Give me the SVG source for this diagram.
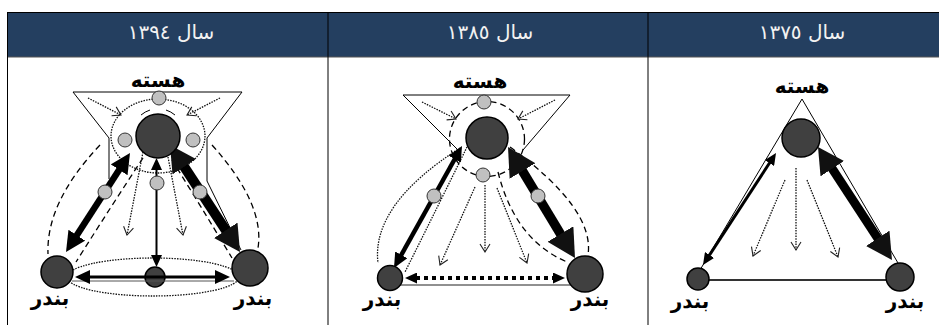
<svg xmlns="http://www.w3.org/2000/svg" width="939" height="325" viewBox="0 0 939 325">
<style>
.thin{fill:none;stroke:#000;stroke-width:1}
.dot{fill:none;stroke:#111;stroke-width:1.3;stroke-dasharray:1.5 1.2}
.dash{fill:none;stroke:#000;stroke-width:1.3;stroke-dasharray:6 4}
.darr{fill:none;stroke:#111;stroke-width:1.3;stroke-dasharray:1.5 1.2;marker-end:url(#vh)}
.big{fill:#404040;stroke:#000;stroke-width:1.5}
.sm{fill:#c0c0c0;stroke:#333;stroke-width:1}
.lbl{font-family:"DejaVu Sans",sans-serif;font-weight:bold;font-size:20px;text-anchor:middle;fill:#000}
.hdr{font-family:"DejaVu Sans",sans-serif;font-size:20px;fill:#f2f2f2;text-anchor:middle}
.arr{fill:none;stroke:#000}
</style>
<defs>
<marker id="vh" markerUnits="userSpaceOnUse" viewBox="-1 -6 11 12" refX="8" refY="0" markerWidth="11" markerHeight="12" orient="auto"><path d="M0,-5 L8,0 L0,5" fill="none" stroke="#222" stroke-width="1.1"/></marker>
<marker id="m12" markerUnits="userSpaceOnUse" viewBox="0 0 12 11" refX="1" refY="5.5" markerWidth="12" markerHeight="11" orient="auto-start-reverse"><path d="M0,0 L12,5.5 L0,11 z" fill="#000"/></marker>
<marker id="m15" markerUnits="userSpaceOnUse" viewBox="0 0 15 14" refX="1" refY="7" markerWidth="15" markerHeight="14" orient="auto-start-reverse"><path d="M0,0 L15,7 L0,14 z" fill="#000"/></marker>
<marker id="m20" markerUnits="userSpaceOnUse" viewBox="0 0 20 20" refX="1" refY="10" markerWidth="20" markerHeight="20" orient="auto-start-reverse"><path d="M0,0 L20,10 L0,20 z" fill="#000"/></marker>
<marker id="m26" markerUnits="userSpaceOnUse" viewBox="0 0 26 28" refX="1" refY="14" markerWidth="26" markerHeight="28" orient="auto-start-reverse"><path d="M0,0 L26,14 L0,28 z" fill="#111"/></marker>
<marker id="m28" markerUnits="userSpaceOnUse" viewBox="0 0 28 30" refX="1" refY="15" markerWidth="28" markerHeight="30" orient="auto-start-reverse"><path d="M0,0 L28,15 L0,30 z" fill="#111"/></marker>
</defs>

<g id="table">
<rect x="0" y="0" width="939" height="325" fill="#fff"/>
<rect x="7" y="12.5" width="932" height="44.5" fill="#243f60"/>
<line x1="7" y1="12.5" x2="939" y2="12.5" stroke="#000" stroke-width="1"/>
<line x1="7" y1="57" x2="939" y2="57" stroke="#555" stroke-width="1.2"/>
<line x1="7.5" y1="12" x2="7.5" y2="325" stroke="#000" stroke-width="1"/>
<line x1="328" y1="12" x2="328" y2="325" stroke="#000" stroke-width="1"/>
<line x1="648" y1="12" x2="648" y2="325" stroke="#000" stroke-width="1"/>
<text class="hdr" x="171" y="39">سال ١٣٩٤</text>
<text class="hdr" x="490" y="39">سال ١٣٨٥</text>
<text class="hdr" x="802" y="39">سال ١٣٧٥</text>
</g>

<g id="p1-center-port"><circle class="big" cx="155" cy="277" r="10"/></g>

<g id="connectors">
<!-- panel 1394 -->
<path class="thin" d="M73,92 H242 M73,92 L109,138 V179 M242,92 L207,138 V181 L241,250"/>
<ellipse class="dot" cx="158" cy="136" rx="47" ry="37"/>
<path class="thin" d="M141,115 A27,27 0 0 1 150,110 M166,110 A27,27 0 0 1 175,115"/>
<path class="dash" d="M100,145 Q46,202 48,254 M212,145 Q265,204 258,248 M143,158 Q112,205 76,262 M172,160 Q200,205 232,258"/>
<ellipse class="dot" cx="153" cy="277" rx="86" ry="19"/>
<line x1="72" y1="281" x2="234" y2="281" stroke="#555" stroke-width="1"/>
<path class="darr" d="M88,98 L121,115"/>
<path class="darr" d="M220,98 L187,115"/>
<path class="darr" d="M143,152 L127,235"/>
<path class="darr" d="M168,157 L183,235"/>
<line class="arr" x1="119.68" y1="168.96" x2="76.32" y2="236.04" stroke-width="6.5" marker-start="url(#m20)" marker-end="url(#m20)"/>
<line class="arr" x1="183.68" y1="165.92" x2="226.32" y2="231.08" stroke="#111" stroke-width="10" marker-start="url(#m26)" marker-end="url(#m26)"/>
<line class="arr" x1="156.5" y1="169" x2="156.5" y2="256" stroke-width="2" marker-start="url(#m12)" marker-end="url(#m12)"/>
<line class="arr" x1="89" y1="277" x2="216" y2="277" stroke-width="3" marker-start="url(#m15)" marker-end="url(#m15)"/>

<!-- panel 1385 -->
<path class="thin" d="M403,95 H570 M403,95 L458,150 M570,95 L523,150"/>
<circle class="dash" cx="487" cy="139" r="37.5"/>
<path class="darr" d="M422,102 L456,119"/>
<path class="darr" d="M555,100 L518,119"/>
<path class="dot" d="M460,148 Q371,205 378,263 M467,147 Q438,206 405,272"/>
<path class="dash" d="M510,147 Q595,209 588,255 M498,172 Q515,240 567,262"/>
<line x1="398" y1="285" x2="572" y2="285" stroke="#222" stroke-width="1.2"/>
<path class="darr" d="M475,187 L440,265"/>
<path class="darr" d="M485,185 L485,252"/>
<path class="darr" d="M497,188 L527,263"/>
<line class="arr" x1="416" y1="278" x2="554" y2="278" stroke-width="4" stroke-dasharray="4 4" marker-start="url(#m12)" marker-end="url(#m12)"/>
<line class="arr" x1="455.19" y1="158.23" x2="400.81" y2="255.77" stroke-width="4.5" marker-start="url(#m15)" marker-end="url(#m15)"/>
<line class="arr" x1="521.96" y1="170.11" x2="561.04" y2="234.89" stroke="#111" stroke-width="9.5" marker-start="url(#m28)" marker-end="url(#m28)"/>

<!-- panel 1375 -->
<path class="thin" d="M802,99 L700,270 M802,99 L898,263"/>
<line x1="698" y1="280" x2="900" y2="280" stroke="#333" stroke-width="1.8"/>
<path class="darr" d="M785,180 L753,256"/>
<path class="darr" d="M796,168 L796,250"/>
<path class="darr" d="M807,180 L838,257"/>
<line class="arr" x1="770" y1="162.2" x2="709" y2="255.8" stroke-width="3" marker-start="url(#m12)" marker-end="url(#m12)"/>
<line class="arr" x1="831.7" y1="167.9" x2="878.3" y2="239.1" stroke="#111" stroke-width="9" marker-start="url(#m26)" marker-end="url(#m26)"/>
</g>

<g id="p1-core"><circle class="big" cx="158" cy="136" r="22"/><text class="lbl" x="158" y="87">هسته</text></g>
<g id="p1-sat-top"><circle class="sm" cx="159" cy="98" r="7"/></g>
<g id="p1-sat-left"><circle class="sm" cx="125" cy="140" r="7"/></g>
<g id="p1-sat-right"><circle class="sm" cx="193" cy="140" r="7"/></g>
<g id="p1-sat-center"><circle class="sm" cx="157" cy="183" r="7"/></g>
<g id="p1-sat-leftmid"><circle class="sm" cx="105" cy="192" r="7"/></g>
<g id="p1-sat-rightmid"><circle class="sm" cx="200" cy="192" r="7"/></g>
<g id="p1-port-left"><circle class="big" cx="57" cy="272" r="16"/><text class="lbl" x="50" y="305">بندر</text></g>
<g id="p1-port-right"><circle class="big" cx="250" cy="268" r="18"/><text class="lbl" x="253" y="305">بندر</text></g>

<g id="p2-core"><circle class="big" cx="487" cy="138" r="21"/><text class="lbl" x="480" y="88">هسته</text></g>
<g id="p2-sat-top"><circle class="sm" cx="484" cy="102" r="7"/></g>
<g id="p2-sat-bottom"><circle class="sm" cx="483" cy="175" r="7"/></g>
<g id="p2-sat-leftmid"><circle class="sm" cx="434" cy="196" r="7"/></g>
<g id="p2-sat-rightmid"><circle class="sm" cx="538" cy="196" r="7"/></g>
<g id="p2-port-left"><circle class="big" cx="390" cy="278" r="12.5"/><text class="lbl" x="382" y="306">بندر</text></g>
<g id="p2-port-right"><circle class="big" cx="585" cy="274" r="18"/><text class="lbl" x="590" y="306">بندر</text></g>

<g id="p3-core"><circle class="big" cx="801" cy="138" r="19"/><text class="lbl" x="802" y="93">هسته</text></g>
<g id="p3-port-left"><circle class="big" cx="698" cy="279" r="11"/><text class="lbl" x="690" y="308">بندر</text></g>
<g id="p3-port-right"><circle class="big" cx="900" cy="277" r="14"/><text class="lbl" x="905" y="308">بندر</text></g>
</svg>
